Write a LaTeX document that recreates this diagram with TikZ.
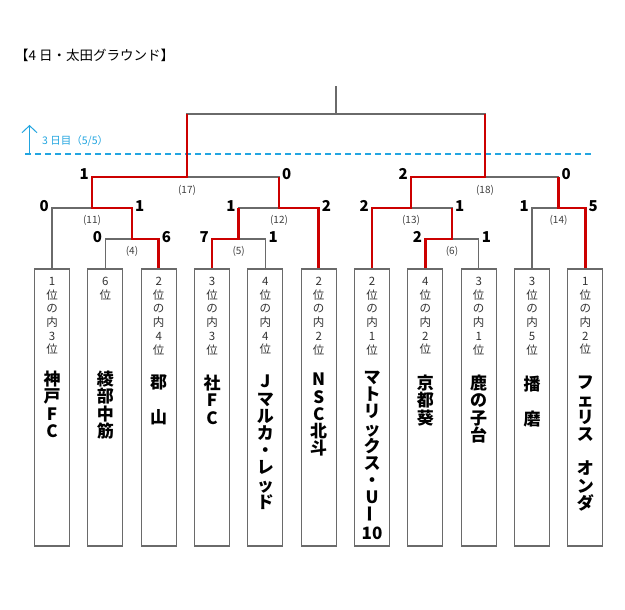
\documentclass[tikz,border=0pt]{standalone}
\usepackage{fontspec}
\usepackage{graphicx}
\setmainfont{Noto Sans CJK JP}
\usetikzlibrary{arrows.meta}
\definecolor{bred}{HTML}{CC0000}
\definecolor{bgray}{HTML}{6A6A6A}
\definecolor{bblue}{HTML}{22A5E0}
\begin{document}
\begin{tikzpicture}[x=1pt,y=-1pt,
  teambox/.style={draw=bgray,line width=1.3pt,minimum width=35pt,minimum height=277pt,inner sep=0pt},
  ranktext/.style={anchor=north,inner sep=0pt,align=center,font=\fontsize{11.5}{13.7}\selectfont,text=black!80},
  nametext/.style={anchor=north,inner sep=0pt,align=center,font=\fontsize{17}{17.2}\selectfont\bfseries},
  gline/.style={draw=bgray,line width=1.1pt},
  rline/.style={draw=bred,line width=2.8pt},
  scoreL/.style={anchor=east,inner sep=0pt,font=\fontsize{15}{15}\selectfont\bfseries,xshift=-3pt,yshift=2pt},
  scoreR/.style={anchor=west,inner sep=0pt,font=\fontsize{15}{15}\selectfont\bfseries,xshift=3pt,yshift=2pt},
  mlabel/.style={inner sep=0pt,font=\fontsize{10}{10}\selectfont,text=black!75,yshift=-12.5pt}
]
\fill[white] (0,0) rectangle (625,610);
\useasboundingbox (0,0) rectangle (625,610);

% title
\node[anchor=west,inner sep=0pt,font=\fontsize{13.5}{13.5}\selectfont] (title) at (15,55) {【4 日・太田グラウンド】};

% day marker
\coordinate (dashL) at (25,154);
\coordinate (dashR) at (592,154);
\coordinate (arrB) at (29.5,154);
\coordinate (arrT) at (29.5,125);
\draw[bblue,line width=1.1pt,dash pattern=on 6pt off 4pt] (dashL) -- (dashR);
\draw[bblue,line width=1pt,-{Straight Barb[length=7pt,width=15pt]}] (arrB) -- (arrT);
\node[anchor=west,inner sep=0pt,font=\fontsize{10.5}{10.5}\selectfont,text=bblue] (daylbl) at (42,141) {3 日目（5/5）};

% team boxes
\foreach \i/\x in {1/52,2/105.3,3/158.7,4/212,5/265.3,6/318.7,7/372,8/425.3,9/478.7,10/532,11/585.3}{
  \node[teambox] (t\i) at (\x,407.5) {};
}

% rank texts
\node[ranktext] (r1) at (52,277) {1\\位\\の\\内\\3\\位};
\node[ranktext] (r2) at (105.3,277) {6\\位};
\node[ranktext] (r3) at (158.7,277) {2\\位\\の\\内\\4\\位};
\node[ranktext] (r4) at (212,277) {3\\位\\の\\内\\3\\位};
\node[ranktext] (r5) at (265.3,277) {4\\位\\の\\内\\4\\位};
\node[ranktext] (r6) at (318.7,277) {2\\位\\の\\内\\2\\位};
\node[ranktext] (r7) at (372,277) {2\\位\\の\\内\\1\\位};
\node[ranktext] (r8) at (425.3,277) {4\\位\\の\\内\\2\\位};
\node[ranktext] (r9) at (478.7,277) {3\\位\\の\\内\\1\\位};
\node[ranktext] (r10) at (532,277) {3\\位\\の\\内\\5\\位};
\node[ranktext] (r11) at (585.3,277) {1\\位\\の\\内\\2\\位};

% team names
\node[nametext] (n1) at (52,371) {神\\戸\\F\\C};
\node[nametext] (n2) at (105.3,371) {綾\\部\\中\\筋};
\node[nametext] (n3) at (158.7,375) {郡\\　\\山};
\node[nametext] (n4) at (212,375) {社\\F\\C};
\node[nametext] (n5) at (265.3,375) {J\\マ\\ル\\カ\\・\\レ\\ッ\\ド};
\node[nametext] (n6) at (318.7,373) {N\\S\\C\\北\\斗};
\node[nametext] (n7) at (372,371) {マ\\ト\\リ\\ッ\\ク\\ス\\・\\U\\\rotatebox{90}{ー}\\10};
\node[nametext] (n8) at (425.3,375) {京\\都\\葵};
\node[nametext] (n9) at (478.7,375) {鹿\\の\\子\\台};
\node[nametext] (n10) at (532,376) {播\\　\\磨};
\node[nametext] (n11) at (585.3,376) {フ\\ェ\\リ\\ス\\　\\オ\\ン\\ダ};

% junctions
\coordinate (j4) at (132,239);
\coordinate (j5) at (238.7,239);
\coordinate (j6) at (452,239);
\coordinate (j11) at (92,208);
\coordinate (j12) at (279,208);
\coordinate (j13) at (411,208);
\coordinate (j14) at (558.5,208);
\coordinate (j17) at (187,177);
\coordinate (j18) at (485,177);
\coordinate (jf) at (336,114);
\coordinate (jtop) at (336,86);

% grey bracket lines
\draw[gline] (t2.north) |- (j4) (t3.north) |- (j4);
\draw[gline] (t4.north) |- (j5) (t5.north) |- (j5);
\draw[gline] (t8.north) |- (j6) (t9.north) |- (j6);
\draw[gline] (t1.north) |- (j11) (j4) |- (j11);
\draw[gline] (j5) |- (j12) (t6.north) |- (j12);
\draw[gline] (t7.north) |- (j13) (j6) |- (j13);
\draw[gline] (t10.north) |- (j14) (t11.north) |- (j14);
\draw[gline] (j11) |- (j17) (j12) |- (j17);
\draw[gline] (j13) |- (j18) (j14) |- (j18);
\draw[gline] (j17) |- (jf) (j18) |- (jf);
\draw[gline] (jf) -- (jtop);

% red winner paths
\draw[rline] (t3.north) |- (j4) |- (j11) |- (j17) -- (j17 |- jf);
\draw[rline] (t4.north) |- (j5) -- (j5 |- j12);
\draw[rline] (t6.north) |- (j12) -- (j12 |- j17);
\draw[rline] (t8.north) |- (j6) -- (j6 |- j13);
\draw[rline] (t7.north) |- (j13) |- (j18) -- (j18 |- jf);
\draw[rline] (t11.north) |- (j14) -- (j14 |- j18);

% match labels
\node[mlabel] (m4) at (j4) {(4)};
\node[mlabel] (m5) at (j5) {(5)};
\node[mlabel] (m6) at (j6) {(6)};
\node[mlabel] (m11) at (j11) {(11)};
\node[mlabel] (m12) at (j12) {(12)};
\node[mlabel] (m13) at (j13) {(13)};
\node[mlabel] (m14) at (j14) {(14)};
\node[mlabel,yshift=-1pt] (m17) at (j17) {(17)};
\node[mlabel,yshift=-1pt] (m18) at (j18) {(18)};

% scores
\node[scoreL] (s4a) at (t2.north |- j4) {0};
\node[scoreR] (s4b) at (t3.north |- j4) {6};
\node[scoreL] (s5a) at (t4.north |- j5) {7};
\node[scoreR] (s5b) at (t5.north |- j5) {1};
\node[scoreL] (s6a) at (t8.north |- j6) {2};
\node[scoreR] (s6b) at (t9.north |- j6) {1};
\node[scoreL] (s11a) at (t1.north |- j11) {0};
\node[scoreR] (s11b) at (j4 |- j11) {1};
\node[scoreL] (s12a) at (j5 |- j12) {1};
\node[scoreR] (s12b) at (t6.north |- j12) {2};
\node[scoreL] (s13a) at (t7.north |- j13) {2};
\node[scoreR] (s13b) at (j6 |- j13) {1};
\node[scoreL] (s14a) at (t10.north |- j14) {1};
\node[scoreR] (s14b) at (t11.north |- j14) {5};
\node[scoreL,yshift=1pt] (s17a) at (j11 |- j17) {1};
\node[scoreR,yshift=1pt] (s17b) at (j12 |- j17) {0};
\node[scoreL,yshift=1pt] (s18a) at (j13 |- j18) {2};
\node[scoreR,yshift=1pt] (s18b) at (j14 |- j18) {0};
\end{tikzpicture}
\end{document}
